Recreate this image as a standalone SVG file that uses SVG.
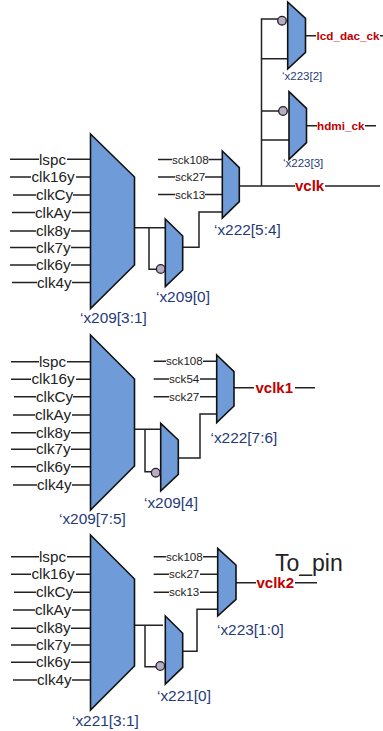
<svg xmlns="http://www.w3.org/2000/svg" width="383" height="731" viewBox="0 0 383 731">
<style>
text{font-family:"Liberation Sans",Arial,sans-serif}
.m{fill:#6f9bd9;stroke:#111;stroke-width:1.6;stroke-linejoin:miter}
.b{fill:#b9aac8;stroke:#222;stroke-width:1.3}
.w{fill:none;stroke:#222;stroke-width:1.5}
.i{font-size:15.2px;fill:#222}
.s{font-size:11.6px;fill:#222}
.n{font-size:15.4px;fill:#1f3a7a}
.t{font-size:11.5px;fill:#1f3a7a}
.r{font-size:15px;font-weight:bold;fill:#c00000}
.q{font-size:11.7px;font-weight:bold;fill:#c00000}
</style>
<rect width="383" height="731" fill="#fff"/>
<g id="connectors" class="w">
<path d="M10 159.3H39M67 159.3H90M10 177H31M76 177H90M13 195H36M73 195H90M12 212.5H35M72 212.5H90M10 231H36M71 231H90M10 247.5H36M71 247.5H90M10 265H36M71 265H90M12 282.5H37M72 282.5H90"/>
<path d="M134 227.7H165M149 227.7V269.3H157M183 247.3H199V212H222"/>
<path d="M158 159.5H172M208.5 159.5H222M158 177H175M205 177H222M158 194.5H175M205 194.5H222"/>
<path d="M239 186H295M325 186H380M261.5 186V19H278M261.5 58.7H288M261.5 111H279M261.5 140H289"/>
<path d="M305.5 35.7H316M380 35.7H383M306.5 125.7H317M365 125.7H376"/>
<path d="M11 361.7H39M67 361.7H90M11 379.3H31M76 379.3H90M14 396.7H36M73 396.7H90M13 415H35M72 415H90M11 432.7H36M71 432.7H90M11 449.3H36M71 449.3H90M11 466.7H36M71 466.7H90M13 485H37M72 485H90"/>
<path d="M134.5 429.3H160.5M145 429.3V471.7H151M178 458H200V414H216.7"/>
<path d="M153.7 361.3H166M203 361.3H216.7M153.7 379H169M200 379H216.7M153.7 396.7H169M200 396.7H216.7"/>
<path d="M234 387.7H254M295 387.7H315"/>
<path d="M11 556.7H39M67 556.7H90M11 574.3H31M76 574.3H90M14 592.3H36M73 592.3H90M13 610H35M72 610H90M11 628.3H36M71 628.3H90M11 645H36M71 645H90M11 662.3H36M71 662.3H90M13 680H37M72 680H90"/>
<path d="M134.5 625.3H163M145 625.3V666.7H156M183 651.3H197V609.3H217.7"/>
<path d="M153.7 556.7H166M203 556.7H217.7M153.7 574.3H169M200 574.3H217.7M153.7 592.3H169M200 592.3H217.7"/>
<path d="M236 582.7H256M295 582.7H317"/>
</g>
<g id="inputs1">
<text class="i" x="39" y="164.5">lspc</text><text class="i" x="31.5" y="182">clk16y</text><text class="i" x="36" y="200">clkCy</text><text class="i" x="35" y="217.5">clkAy</text><text class="i" x="36" y="236">clk8y</text><text class="i" x="36" y="252.5">clk7y</text><text class="i" x="36" y="270">clk6y</text><text class="i" x="37" y="287.5">clk4y</text>
<text class="s" x="172" y="163.5">sck108</text><text class="s" x="175" y="181">sck27</text><text class="s" x="175" y="198.5">sck13</text>
</g>
<g id="inputs2">
<text class="i" x="39" y="366.7">lspc</text><text class="i" x="31.5" y="384.3">clk16y</text><text class="i" x="36" y="401.7">clkCy</text><text class="i" x="35" y="420">clkAy</text><text class="i" x="36" y="437.7">clk8y</text><text class="i" x="36" y="454.3">clk7y</text><text class="i" x="36" y="471.7">clk6y</text><text class="i" x="37" y="490">clk4y</text>
<text class="s" x="166" y="365.3">sck108</text><text class="s" x="169" y="383">sck54</text><text class="s" x="169" y="400.7">sck27</text>
</g>
<g id="inputs3">
<text class="i" x="39" y="561.7">lspc</text><text class="i" x="31.5" y="579.3">clk16y</text><text class="i" x="36" y="597.3">clkCy</text><text class="i" x="35" y="615">clkAy</text><text class="i" x="36" y="633.3">clk8y</text><text class="i" x="36" y="650">clk7y</text><text class="i" x="36" y="667.3">clk6y</text><text class="i" x="37" y="685">clk4y</text>
<text class="s" x="166" y="560.7">sck108</text><text class="s" x="169" y="578.3">sck27</text><text class="s" x="169" y="596.3">sck13</text>
</g>
<g id="x209-3-1"><polygon class="m" points="90.5,134 134.5,177 134.5,265 90.5,308.5"/><text class="n" x="80" y="322.7">‘x209[3:1]</text></g>
<g id="x209-0"><polygon class="m" points="165.3,219 182.7,236 182.7,270 165.3,286.7"/><circle class="b" cx="160.7" cy="269" r="4.3"/><text class="n" x="156" y="302">‘x209[0]</text></g>
<g id="x222-5-4"><polygon class="m" points="222.3,151 239.3,167.7 239.3,201.7 222.3,218"/><text class="n" x="214" y="235">‘x222[5:4]</text></g>
<g id="x223-2"><polygon class="m" points="287.7,2 305.5,18.3 305.5,52.3 287.7,69"/><circle class="b" cx="282" cy="20.7" r="4.3"/><text class="t" x="282" y="80">‘x223[2]</text></g>
<g id="x223-3"><polygon class="m" points="289,91.7 306.5,108.3 306.5,142.7 289,159.3"/><circle class="b" cx="283" cy="111" r="4.3"/><text class="t" x="283" y="167">‘x223[3]</text></g>
<g id="x209-7-5"><polygon class="m" points="90.5,335 134.5,379 134.5,466 90.5,510"/><text class="n" x="59" y="524">‘x209[7:5]</text></g>
<g id="x209-4"><polygon class="m" points="160.7,423.3 178.3,440 178.3,474.3 160.7,491"/><circle class="b" cx="155.7" cy="472.7" r="4.3"/><text class="n" x="144" y="508">‘x209[4]</text></g>
<g id="x222-7-6"><polygon class="m" points="216.7,355 234,371.7 234,406 216.7,422.7"/><text class="n" x="210.5" y="443.3">‘x222[7:6]</text></g>
<g id="x221-3-1"><polygon class="m" points="90.5,535 134.5,579 134.5,666 90.5,710"/><text class="n" x="72" y="726">‘x221[3:1]</text></g>
<g id="x221-0"><polygon class="m" points="165.3,616 182.7,633.3 182.7,667.3 165.3,684"/><circle class="b" cx="160.3" cy="666" r="4.3"/><text class="n" x="157" y="700.7">‘x221[0]</text></g>
<g id="x223-1-0"><polygon class="m" points="217.7,548.3 236,565 236,599.3 217.7,616"/><text class="n" x="217" y="635">‘x223[1:0]</text></g>
<g id="outputs">
<text class="q" x="316.5" y="39.7">lcd_dac_ck</text>
<text class="q" x="317" y="129.7">hdmi_ck</text>
<text class="r" x="295" y="191">vclk</text>
<text class="r" x="255.5" y="392.7">vclk1</text>
<text class="r" x="256.5" y="587.7">vclk2</text>
<text x="275" y="570.7" font-size="23" fill="#222">To_pin</text>
</g>
</svg>
